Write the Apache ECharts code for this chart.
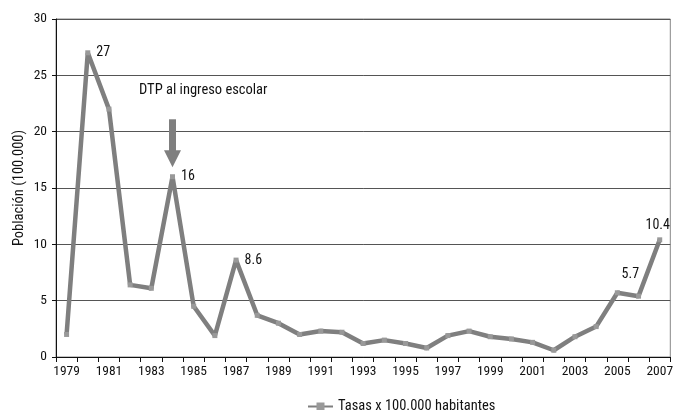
<!DOCTYPE html>
<html>
<head>
    <meta charset="UTF-8">
    <title>Tasas x 100.000 habitantes</title>
    <script src="https://cdn.jsdelivr.net/npm/echarts/dist/echarts.min.js"></script>
    <style>
        body { margin: 0; background: #fff; }
        #chart { width: 676px; height: 410px; }
    </style>
</head>
<body>
    <div id="chart"></div>
    <script>
        const years = ['1979', '1980', '1981', '1982', '1983', '1984', '1985', '1986', '1987', '1988',
            '1989', '1990', '1991', '1992', '1993', '1994', '1995', '1996', '1997', '1998',
            '1999', '2000', '2001', '2002', '2003', '2004', '2005', '2006', '2007'];
        const tasas = [2.0, 27, 22.0, 6.4, 6.1, 16, 4.5, 1.9, 8.6, 3.7,
            3.0, 2.0, 2.3, 2.2, 1.2, 1.5, 1.2, 0.8, 1.9, 2.3,
            1.8, 1.6, 1.3, 0.6, 1.8, 2.7, 5.7, 5.4, 10.4];
        // which points carry a value label, and where
        const labelled = {
            '1980': { position: 'right', distance: 6 },
            '1984': { position: 'right', distance: 6 },
            '1987': { position: 'right', distance: 6 },
            '2005': { position: 'top', offset: [13, -4] },
            '2007': { position: 'top', offset: [-2, 0] }
        };

        const font = "'Roboto Condensed', 'Open Sans Condensed', sans-serif";
        const lineGrey = '#7f7f7f';

        const seriesData = tasas.map((v, i) => {
            const lab = labelled[years[i]];
            if (!lab) return v;
            return {
                value: v,
                label: Object.assign({ show: true, color: '#111', fontSize: 14, fontFamily: font }, lab)
            };
        });

        const chart = echarts.init(document.getElementById('chart'));
        chart.setOption({
            animation: false,
            textStyle: { fontFamily: font },
            grid: {
                left: 56, right: 3, top: 19, bottom: 53,
                show: true, borderColor: '#888', borderWidth: 1
            },
            legend: {
                left: 302, top: 394,
                itemWidth: 25, itemHeight: 10, itemGap: 4,
                textStyle: { fontSize: 14.5, color: '#111', fontFamily: font },
                data: ['Tasas x 100.000 habitantes']
            },
            graphic: [{
                type: 'text',
                left: 139, top: 83,
                style: { text: 'DTP al ingreso escolar', fill: '#111', font: '14.5px ' + font }
            }],
            xAxis: {
                type: 'category',
                data: years,
                boundaryGap: true,
                axisLine: { lineStyle: { color: '#111', width: 1 } },
                axisTick: { show: true, interval: 0, length: 5, lineStyle: { color: '#111' } },
                axisLabel: { interval: 1, fontSize: 13.5, color: '#111', margin: 8, fontFamily: font }
            },
            yAxis: {
                type: 'value',
                min: 0, max: 30, interval: 5,
                name: 'Población (100.000)',
                nameLocation: 'middle',
                nameGap: 29,
                nameMoveOverlap: false,
                nameTextStyle: { fontSize: 14.5, color: '#111', fontFamily: font },
                axisLine: { show: true, lineStyle: { color: '#111' } },
                axisTick: { show: true, length: 4, lineStyle: { color: '#111' } },
                axisLabel: { fontSize: 13.5, color: '#111', margin: 9, fontFamily: font },
                splitLine: { lineStyle: { color: '#555', width: 1 } }
            },
            series: [{
                name: 'Tasas x 100.000 habitantes',
                type: 'line',
                data: seriesData,
                symbol: 'rect',
                symbolSize: 5,
                lineStyle: { color: lineGrey, width: 4.5 },
                itemStyle: { color: '#999' },
                markLine: {
                    silent: true,
                    symbol: ['none', 'triangle'],
                    symbolSize: [17, 17],
                    lineStyle: { color: lineGrey, width: 7, type: 'solid' },
                    label: { show: false },
                    data: [[
                        { coord: ['1984', 21.1] },
                        { coord: ['1984', 17.6] }
                    ]]
                }
            }]
        });
    </script>
</body>
</html>
